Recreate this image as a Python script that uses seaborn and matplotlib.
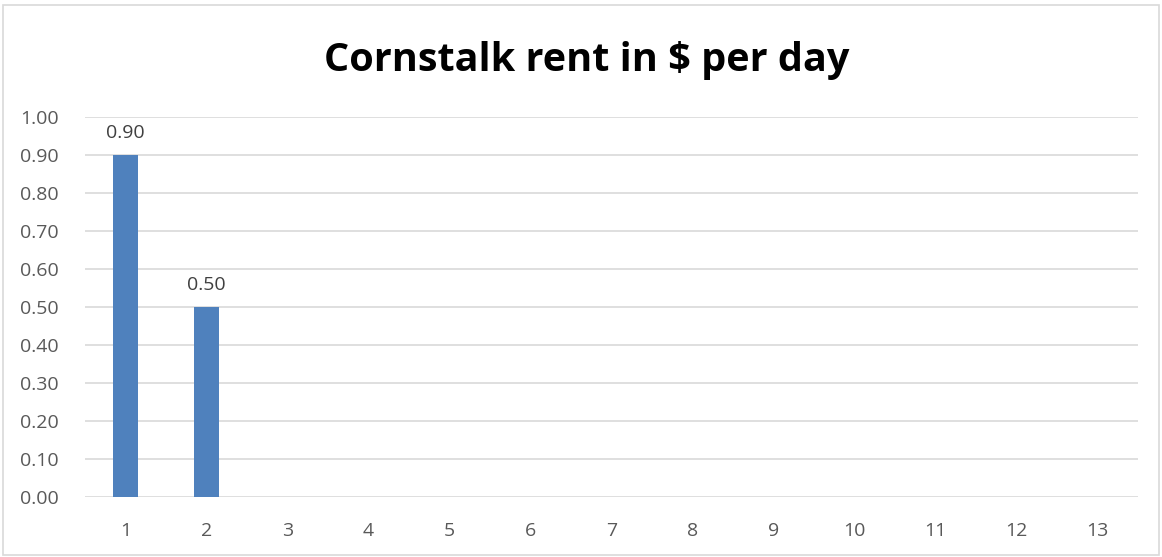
import numpy as np
import pandas as pd
import matplotlib
matplotlib.use("Agg")
import matplotlib.pyplot as plt
import seaborn as sns
from matplotlib.patches import Rectangle

# データ
categories = [str(i) for i in range(1, 14)]
rent = [0.90, 0.50] + [np.nan] * 11
y_ticks = [0.0, 0.1, 0.2, 0.3, 0.4, 0.5, 0.6, 0.7, 0.8, 0.9, 1.0]
title = "Cornstalk rent in $ per day"

sns.set_theme(style="white")
plt.rcParams["font.family"] = ["Open Sans", "DejaVu Sans"]

df = pd.DataFrame({"cat": categories, "rent": rent})

fig = plt.figure(figsize=(11.62, 5.57), dpi=100)
ax = fig.add_axes([0.0731, 0.1077, 0.9062, 0.6822])

sns.barplot(data=df, x="cat", y="rent", order=categories, color="#4f81bd",
            saturation=1, width=0.31, linewidth=0, ax=ax)

# 値ラベル
for i, v in enumerate(rent):
    if not np.isnan(v):
        ax.text(i, v + 0.035, f"{v:.2f}", ha="center", va="bottom",
                fontsize=14, color="#404040")

ax.set_ylim(0, 1.0)
ax.set_xlim(-0.5, len(categories) - 0.5)
ax.set_yticks(y_ticks)
ax.set_yticklabels([f"{t:.2f}" for t in y_ticks])
ax.yaxis.grid(True, color="#d9d9d9", linewidth=1.2)
ax.set_axisbelow(True)
for s in ax.spines.values():
    s.set_visible(False)
ax.tick_params(axis="both", length=0, labelsize=14, labelcolor="#595959")
ax.tick_params(axis="y", pad=19)
ax.tick_params(axis="x", pad=18)
ax.set_xlabel("")
ax.set_ylabel("")

fig.text(0.505, 0.892, title, ha="center", va="center", fontsize=28.5,
         fontweight="bold", color="black")

# 外枠
fig.patches.append(Rectangle((0.003, 0.003), 0.994, 0.988, transform=fig.transFigure,
                             fill=False, edgecolor="#d9d9d9", linewidth=1.2))

fig.savefig("out.png", dpi=100)
